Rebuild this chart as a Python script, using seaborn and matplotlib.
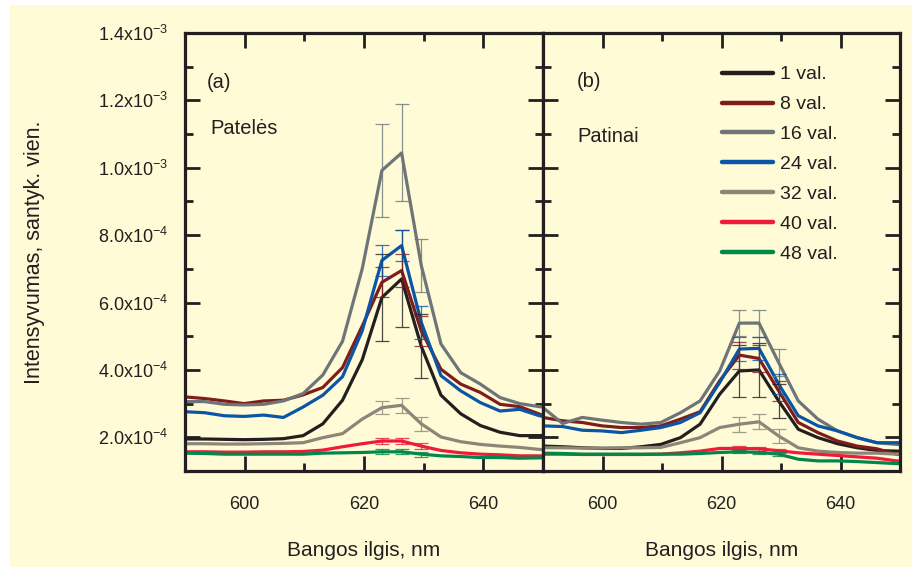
import numpy as np
import pandas as pd
import matplotlib
matplotlib.use('Agg')
import matplotlib.pyplot as plt
import seaborn as sns
from matplotlib.ticker import MultipleLocator, FuncFormatter
from matplotlib.patches import Rectangle
from matplotlib.lines import Line2D

# Wavelength grid (nm) and intensities (x1e-4)
wavelength = [590.0, 593.3, 596.6, 599.9, 603.2, 606.5, 609.8, 613.1, 616.4, 619.7,
              623.0, 626.3, 629.6, 632.9, 636.2, 639.5, 642.8, 646.1, 649.4, 652.7]

series = ['1 val.', '8 val.', '16 val.', '24 val.', '32 val.', '40 val.', '48 val.']
colors = ['#231f20', '#7f1d1d', '#6d7579', '#0a55a6', '#8c8678', '#ec1c3a', '#00874a']

# (a) Patelės
a_1 = [1.95, 1.95, 1.94, 1.93, 1.94, 1.96, 2.05, 2.40, 3.10, 4.30, 6.15, 6.70, 4.70, 3.25, 2.70, 2.35, 2.15, 2.05, 2.05, 2.08]
a_8 = [3.20, 3.15, 3.08, 3.00, 3.08, 3.10, 3.26, 3.48, 4.07, 5.30, 6.60, 6.95, 5.16, 4.02, 3.58, 3.33, 2.98, 2.91, 2.69, 2.45]
a_16 = [3.06, 3.06, 2.98, 2.96, 2.98, 3.08, 3.30, 3.85, 4.85, 7.00, 9.92, 10.44, 7.10, 4.77, 3.92, 3.58, 3.18, 3.00, 2.91, 2.85]
a_24 = [2.76, 2.73, 2.64, 2.62, 2.66, 2.59, 2.90, 3.25, 3.80, 5.16, 7.25, 7.69, 5.41, 3.83, 3.38, 3.03, 2.78, 2.83, 2.64, 2.55]
a_32 = [1.81, 1.81, 1.80, 1.80, 1.81, 1.82, 1.84, 1.99, 2.11, 2.54, 2.88, 2.95, 2.40, 2.01, 1.87, 1.79, 1.74, 1.70, 1.64, 1.62]
a_40 = [1.57, 1.57, 1.56, 1.56, 1.57, 1.57, 1.58, 1.62, 1.72, 1.81, 1.89, 1.89, 1.74, 1.61, 1.54, 1.50, 1.48, 1.45, 1.45, 1.44]
a_48 = [1.53, 1.52, 1.50, 1.50, 1.50, 1.50, 1.50, 1.53, 1.54, 1.55, 1.57, 1.57, 1.50, 1.45, 1.43, 1.40, 1.40, 1.38, 1.39, 1.38]

# (b) Patinai
b_1 = [1.74, 1.72, 1.69, 1.67, 1.67, 1.72, 1.79, 1.99, 2.39, 3.28, 3.97, 4.00, 3.08, 2.24, 1.99, 1.81, 1.69, 1.61, 1.59, 1.58]
b_8 = [2.59, 2.49, 2.44, 2.34, 2.29, 2.29, 2.34, 2.54, 2.76, 3.68, 4.44, 4.34, 3.38, 2.44, 2.14, 1.89, 1.74, 1.66, 1.50, 1.45]
b_16 = [2.88, 2.41, 2.59, 2.51, 2.44, 2.39, 2.44, 2.73, 3.08, 3.97, 5.39, 5.39, 4.22, 3.08, 2.54, 2.19, 1.99, 1.84, 1.79, 1.78]
b_24 = [2.34, 2.32, 2.21, 2.19, 2.14, 2.21, 2.29, 2.44, 2.73, 3.63, 4.62, 4.64, 3.58, 2.64, 2.34, 2.19, 1.99, 1.84, 1.84, 1.84]
b_32 = [1.69, 1.69, 1.68, 1.68, 1.69, 1.69, 1.70, 1.84, 1.99, 2.29, 2.39, 2.46, 2.04, 1.69, 1.59, 1.55, 1.53, 1.53, 1.50, 1.50]
b_40 = [1.50, 1.50, 1.49, 1.49, 1.49, 1.49, 1.50, 1.54, 1.59, 1.67, 1.67, 1.66, 1.60, 1.54, 1.50, 1.46, 1.42, 1.38, 1.30, 1.28]
b_48 = [1.53, 1.52, 1.50, 1.50, 1.50, 1.50, 1.50, 1.50, 1.52, 1.55, 1.57, 1.55, 1.50, 1.35, 1.30, 1.30, 1.28, 1.25, 1.22, 1.22]

# error bars (x1e-4) at 623.0, 626.3 and 629.6 nm
err_idx = [10, 11, 12]
a_err = [[1.30, 1.44, 0.95], [0.45, 0.50, 0.45], [1.38, 1.44, 0.80], [0.45, 0.45, 0.50],
         [0.20, 0.22, 0.20], [0.10, 0.10, 0.10], [0.07, 0.07, 0.07]]
b_err = [[0.78, 0.80, 0.50], [0.40, 0.40, 0.30], [0.38, 0.40, 0.40], [0.35, 0.35, 0.30],
         [0.22, 0.22, 0.20], [0.06, 0.06, 0.06], [0.05, 0.05, 0.05]]

panel_a = [a_1, a_8, a_16, a_24, a_32, a_40, a_48]
panel_b = [b_1, b_8, b_16, b_24, b_32, b_40, b_48]

cream = '#fffbd6'
ink = '#231f20'

sns.set_theme(style='ticks')
plt.rcParams['font.family'] = ['Liberation Sans', 'DejaVu Sans']
plt.rcParams['mathtext.fontset'] = 'custom'
plt.rcParams['mathtext.rm'] = 'Liberation Sans'
plt.rcParams['mathtext.it'] = 'Liberation Sans:italic'


def long_form(panel):
    rows = []
    for name, vals in zip(series, panel):
        for x, v in zip(wavelength, vals):
            rows.append({'nm': x, 'I': v * 1e-4, 'series': name})
    return pd.DataFrame(rows)


def y_fmt(v, pos):
    if v >= 0.95e-3:
        return '%.1fx10$^{-3}$' % (v * 1e3)
    return '%.1fx10$^{-4}$' % (v * 1e4)


fig = plt.figure(figsize=(9.14, 5.67), dpi=100)
fig.patch.set_facecolor('white')
fig.patches.append(Rectangle((0.011, 0.0), 0.987, 0.991, transform=fig.transFigure,
                             facecolor=cream, edgecolor='none', zorder=-10))

ax_a = fig.add_axes([0.2024, 0.1693, 0.3917, 0.7725])
ax_b = fig.add_axes([0.5941, 0.1693, 0.3906, 0.7725], sharey=ax_a)

for ax, panel, errs in [(ax_a, panel_a, a_err), (ax_b, panel_b, b_err)]:
    ax.set_facecolor(cream)
    df = long_form(panel)
    sns.lineplot(data=df, x='nm', y='I', hue='series', hue_order=series,
                 palette=colors, linewidth=2.3, sort=False, legend=False, ax=ax)
    for vals, e, c in zip(panel, errs, colors):
        xs = [wavelength[i] for i in err_idx]
        ys = [vals[i] * 1e-4 for i in err_idx]
        ax.errorbar(xs, ys, yerr=np.array(e) * 1e-4, fmt='none', ecolor=c,
                    elinewidth=0.9, capsize=5, capthick=0.9, alpha=0.8)
    ax.set_xlim(590, 650)
    ax.set_ylim(1e-4, 1.4e-3)
    ax.xaxis.set_major_locator(MultipleLocator(20))
    ax.xaxis.set_minor_locator(MultipleLocator(10))
    ax.yaxis.set_major_locator(MultipleLocator(2e-4))
    ax.yaxis.set_minor_locator(MultipleLocator(1e-4))
    ax.tick_params(which='both', direction='in', top=True, right=True, left=True,
                   bottom=True, color=ink, labelsize=13, labelcolor=ink)
    ax.tick_params(axis='x', pad=18)
    ax.tick_params(axis='y', pad=12)
    ax.tick_params(which='major', length=11, width=2)
    ax.tick_params(which='minor', length=6, width=2)
    for s in ax.spines.values():
        s.set_linewidth(2.3)
        s.set_color(ink)
    ax.set_xlabel('Bangos ilgis, nm', fontsize=15, color=ink, labelpad=20)
    ax.set_ylabel('')

ax_a.yaxis.set_major_formatter(FuncFormatter(y_fmt))
ax_a.set_ylabel('Intensyvumas, santyk. vien.', fontsize=15.5, color=ink, labelpad=38)
ax_b.tick_params(axis='y', labelleft=False)

ax_a.text(0.061, 0.887, '(a)', transform=ax_a.transAxes, fontsize=14.5, color=ink, va='center')
ax_a.text(0.07, 0.783, 'Patelės', transform=ax_a.transAxes, fontsize=14.5, color=ink, va='center')
ax_b.text(0.095, 0.89, '(b)', transform=ax_b.transAxes, fontsize=14.5, color=ink, va='center')
ax_b.text(0.095, 0.763, 'Patinai', transform=ax_b.transAxes, fontsize=14.5, color=ink, va='center')

handles = [Line2D([], [], color=c, linewidth=3.2) for c in colors]
ax_b.legend(handles, series, loc='upper left', bbox_to_anchor=(0.501, 0.925),
            frameon=False, fontsize=14, handlelength=2.65, handletextpad=0.36,
            labelspacing=0.63, borderpad=0, borderaxespad=0, labelcolor=ink)

fig.savefig('out.png', dpi=100, facecolor=fig.get_facecolor())
